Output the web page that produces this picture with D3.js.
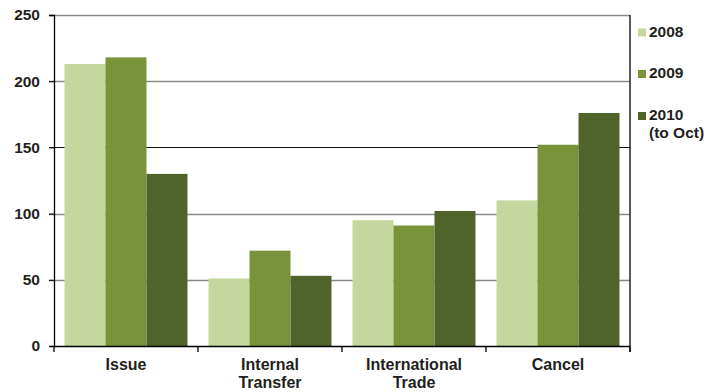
<!DOCTYPE html>
<html><head><meta charset="utf-8">
<script src="https://cdn.jsdelivr.net/npm/d3@7"></script>
<style>body{margin:0;background:#fff}svg{display:block}text{font-family:"Liberation Sans",Arial,sans-serif;font-weight:bold;fill:#231f20}</style>
</head><body>
<svg id="c" width="707" height="392"></svg>
<script>
const categories = [["Issue"], ["Internal","Transfer"], ["International","Trade"], ["Cancel"]];
const seriesNames = [["2008"], ["2009"], ["2010","(to Oct)"]];
const values2008 = [213, 51, 95, 110];
const values2009 = [218, 72, 91, 152];
const values2010 = [130, 53, 102, 176];
const yTicks = [0, 50, 100, 150, 200, 250];
const colors = ["#c5d79f", "#79933b", "#50632a"];
const series = [values2008, values2009, values2010];

const svg = d3.select("#c");
const L = 54, R = 630, T = 15, B = 346;
const y = d3.scaleLinear().domain([0, 250]).range([B, T]);
const x0 = d3.scaleBand().domain(d3.range(categories.length)).range([L, R]).paddingInner(0).paddingOuter(0);
const x1 = d3.scaleBand().domain(d3.range(series.length)).range([0, x0.bandwidth()]).paddingOuter(0.256).paddingInner(0);

// gridlines
const grid = svg.append("g");
yTicks.filter(t => t > 0).forEach(t => {
  grid.append("line").attr("x1", L - 5).attr("x2", R).attr("y1", Math.round(y(t)) + 0.5).attr("y2", Math.round(y(t)) + 0.5)
    .attr("stroke", t === 150 ? "#111" : "#8a8a8a").attr("stroke-width", t === 150 ? 1.2 : 1.6);
});

// bars
series.forEach((vals, si) => {
  svg.append("g").selectAll("rect").data(vals).join("rect")
    .attr("x", (d, i) => x0(i) + x1(si))
    .attr("width", x1.bandwidth())
    .attr("y", d => y(d))
    .attr("height", d => B - y(d))
    .attr("fill", colors[si]);
});

// y axis
const yAxis = d3.axisLeft(y).tickValues(yTicks).tickSize(5).tickPadding(9);
const ga = svg.append("g").attr("transform", `translate(${L},0)`).call(yAxis);
ga.select(".domain").attr("stroke", "#000").attr("stroke-width", 1.3);
ga.selectAll(".tick line").attr("stroke", "#000");
ga.selectAll(".tick text").style("font-size", "15.5px").attr("fill", "#231f20").style("font-family", '"Liberation Sans",Arial,sans-serif').style("font-weight", "bold");

// bottom axis
svg.append("line").attr("x1", L).attr("x2", R).attr("y1", B + 0.5).attr("y2", B + 0.5).attr("stroke", "#000").attr("stroke-width", 1.5);
d3.range(categories.length + 1).forEach(i => {
  const xx = i < categories.length ? x0(i) : R;
  svg.append("line").attr("x1", xx).attr("x2", xx).attr("y1", B).attr("y2", B + 6).attr("stroke", "#000").attr("stroke-width", 1.3);
});
// right border
svg.append("line").attr("x1", R).attr("x2", R).attr("y1", T).attr("y2", B + 6).attr("stroke", "#000").attr("stroke-width", 1.3);

// category labels
categories.forEach((lines, i) => {
  const t = svg.append("text").attr("text-anchor", "middle").style("font-size", "16px")
    .attr("x", x0(i) + x0.bandwidth() / 2).attr("y", 370);
  lines.forEach((ln, j) => t.append("tspan").attr("x", x0(i) + x0.bandwidth() / 2).attr("dy", j ? 18 : 0).text(ln));
});

// legend
const legY = [36.5, 78, 120];
seriesNames.forEach((lines, i) => {
  svg.append("rect").attr("x", 638).attr("y", legY[i] - 8).attr("width", 8).attr("height", 8).attr("fill", colors[i]);
  const t = svg.append("text").attr("x", 649).attr("y", legY[i]).style("font-size", "15.5px");
  lines.forEach((ln, j) => t.append("tspan").attr("x", 649).attr("dy", j ? 17.5 : 0).text(ln));
});
</script>
</body></html>
